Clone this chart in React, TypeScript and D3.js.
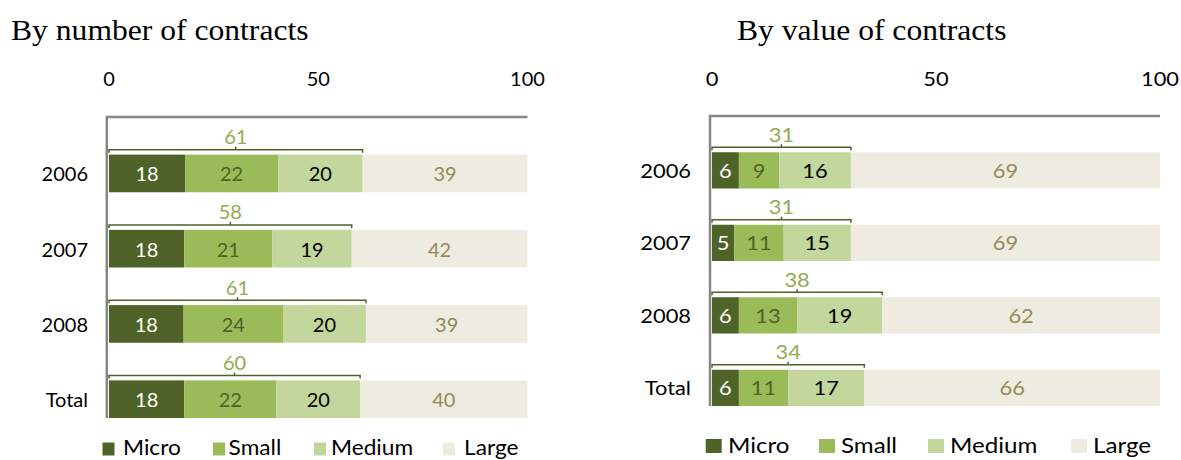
import React from "react";
import * as d3 from "d3";

// ---------- data ----------
const CATEGORIES = ["2006", "2007", "2008", "Total"];
const SERIES = ["Micro", "Small", "Medium", "Large"];
const AXIS_TICKS = [0, 50, 100];

const countMicro = [18, 18, 18, 18];
const countSmall = [22, 21, 24, 22];
const countMedium = [20, 19, 20, 20];
const countLarge = [39, 42, 39, 40];
const countSME = [61, 58, 61, 60];

const valueMicro = [6, 5, 6, 6];
const valueSmall = [9, 11, 13, 11];
const valueMedium = [16, 15, 19, 17];
const valueLarge = [69, 69, 62, 66];
const valueSME = [31, 31, 38, 34];

// ---------- styles ----------
const FILL: Record<string, string> = {
  Micro: "#4F6228",
  Small: "#9BBB59",
  Medium: "#C3D69B",
  Large: "#EEECE1",
};
const LABEL_FILL: Record<string, string> = {
  Micro: "#FFFFFF",
  Small: "#4F6228",
  Medium: "#000000",
  Large: "#948A54",
};
const SME_COLOR = "#8CAE50";
const BRACKET_COLOR = "#4F6228";
const AXIS_COLOR = "#868686";
const SANS = "Lato, 'Open Sans', sans-serif";
const SERIF = "'Liberation Serif', 'Times New Roman', serif";

type Layout = {
  titleX: number;
  x0: number;
  x1: number;
  top: number;
  bottom: number;
  axisX: number;
  catRight: number;
  font: number;
  sx: number;
  tickY: number;
  legendBase: number;
  sqW: number;
  sqH: number;
  sqTop: number;
  sqX: number[];
  txtX: number[];
  legendFont: number;
  legendSx: number;
};

const LEFT: Layout = {
  titleX: 11,
  x0: 109,
  x1: 527.5,
  top: 117,
  bottom: 418,
  axisX: 106.8,
  catRight: 88,
  font: 20,
  sx: 1,
  tickY: 86,
  legendBase: 454.5,
  sqW: 12,
  sqH: 13,
  sqTop: 442.5,
  sqX: [102.5, 213, 314, 443],
  txtX: [123, 228.6, 331, 464],
  legendFont: 21,
  legendSx: 1.08,
};

const RIGHT: Layout = {
  titleX: 737,
  x0: 712,
  x1: 1160,
  top: 116,
  bottom: 406,
  axisX: 710,
  catRight: 691,
  font: 19,
  sx: 1.15,
  tickY: 86,
  legendBase: 452.7,
  sqW: 16,
  sqH: 14,
  sqTop: 439,
  sqX: [705.7, 819, 928, 1071],
  txtX: [728, 841, 950, 1093],
  legendFont: 21,
  legendSx: 1.15,
};

function T({
  x,
  y,
  sx = 1,
  anchor = "middle",
  size,
  fill = "#000",
  family = SANS,
  baseline,
  children,
}: any) {
  return (
    <text
      transform={`translate(${x},${y}) scale(${sx},1)`}
      textAnchor={anchor}
      fontSize={size}
      fill={fill}
      fontFamily={family}
      dominantBaseline={baseline}
    >
      {children}
    </text>
  );
}

function Panel({
  title,
  series,
  sme,
  L,
}: {
  title: string;
  series: number[][];
  sme: number[];
  L: Layout;
}) {
  const rows = CATEGORIES.map((c, i) => {
    const r: any = { cat: c };
    SERIES.forEach((s, k) => (r[s] = series[k][i]));
    return r;
  });
  const stacked = d3
    .stack<any>()
    .keys(SERIES)
    .offset(d3.stackOffsetExpand)(rows);

  const x = d3.scaleLinear().domain([0, 100]).range([L.x0, L.x1]);
  const y = d3
    .scaleBand<string>()
    .domain(CATEGORIES)
    .range([L.top, L.bottom])
    .padding(0);
  const step = y.step();
  const barH = step / 2;

  return (
    <g>
      <T
        x={L.titleX}
        y={40}
        sx={1.09}
        anchor="start"
        size={29}
        family={SERIF}
      >
        {title}
      </T>
      {AXIS_TICKS.map((t) => (
        <T key={t} x={x(t)} y={L.tickY} sx={L.sx} size={L.font}>
          {t}
        </T>
      ))}
      {/* bars */}
      {stacked.map((layer) =>
        layer.map((d, i) => {
          const cat = CATEGORIES[i];
          const x0 = x(d[0] * 100);
          const x1 = x(d[1] * 100);
          const yTop = (y(cat) as number) + barH;
          return (
            <g key={layer.key + cat}>
              <rect
                x={x0}
                y={yTop}
                width={Math.max(0, x1 - x0)}
                height={barH}
                fill={FILL[layer.key]}
              />
              <T
                x={(x0 + x1) / 2}
                y={yTop + barH / 2}
                sx={L.sx}
                size={L.font}
                fill={LABEL_FILL[layer.key]}
                baseline="central"
              >
                {(d.data as any)[layer.key]}
              </T>
            </g>
          );
        })
      )}
      {/* brackets for SME total */}
      {CATEGORIES.map((cat, i) => {
        const end = x(stacked[2][i][1] * 100);
        const start = x(0);
        const by = (y(cat) as number) + barH - 5;
        const mid = (start + end) / 2;
        return (
          <g key={"br" + cat}>
            <path
              d={`M${start},${by + 3}V${by}H${end}V${by + 3}M${mid},${by}V${
                by - 3
              }`}
              fill="none"
              stroke={BRACKET_COLOR}
              strokeWidth={1.5}
            />
            <T x={mid} y={by - 5.5} sx={L.sx} size={L.font} fill={SME_COLOR}>
              {sme[i]}
            </T>
          </g>
        );
      })}
      {/* category labels */}
      {CATEGORIES.map((cat) => (
        <T
          key={"c" + cat}
          x={L.catRight}
          y={(y(cat) as number) + barH * 1.5}
          sx={L.sx}
          anchor="end"
          size={L.font}
          baseline="central"
        >
          {cat}
        </T>
      ))}
      {/* axis frame */}
      <path
        d={`M${x(100)},${L.top}H${L.axisX}V${L.bottom}`}
        fill="none"
        stroke={AXIS_COLOR}
        strokeWidth={2.5}
      />
      {/* legend */}
      {SERIES.map((s, k) => (
        <g key={"lg" + s}>
          <rect
            x={L.sqX[k]}
            y={L.sqTop}
            width={L.sqW}
            height={L.sqH}
            fill={FILL[s]}
          />
          <T
            x={L.txtX[k]}
            y={L.legendBase}
            sx={L.legendSx}
            anchor="start"
            size={L.legendFont}
          >
            {s}
          </T>
        </g>
      ))}
    </g>
  );
}

export default function App() {
  return (
    <svg
      width={1181}
      height={460}
      style={{ position: "absolute", left: 0, top: 0, background: "#fff" }}
    >
      <rect width={1181} height={460} fill="#fff" />
      <Panel
        title="By number of contracts"
        series={[countMicro, countSmall, countMedium, countLarge]}
        sme={countSME}
        L={LEFT}
      />
      <Panel
        title="By value of contracts"
        series={[valueMicro, valueSmall, valueMedium, valueLarge]}
        sme={valueSME}
        L={RIGHT}
      />
    </svg>
  );
}
